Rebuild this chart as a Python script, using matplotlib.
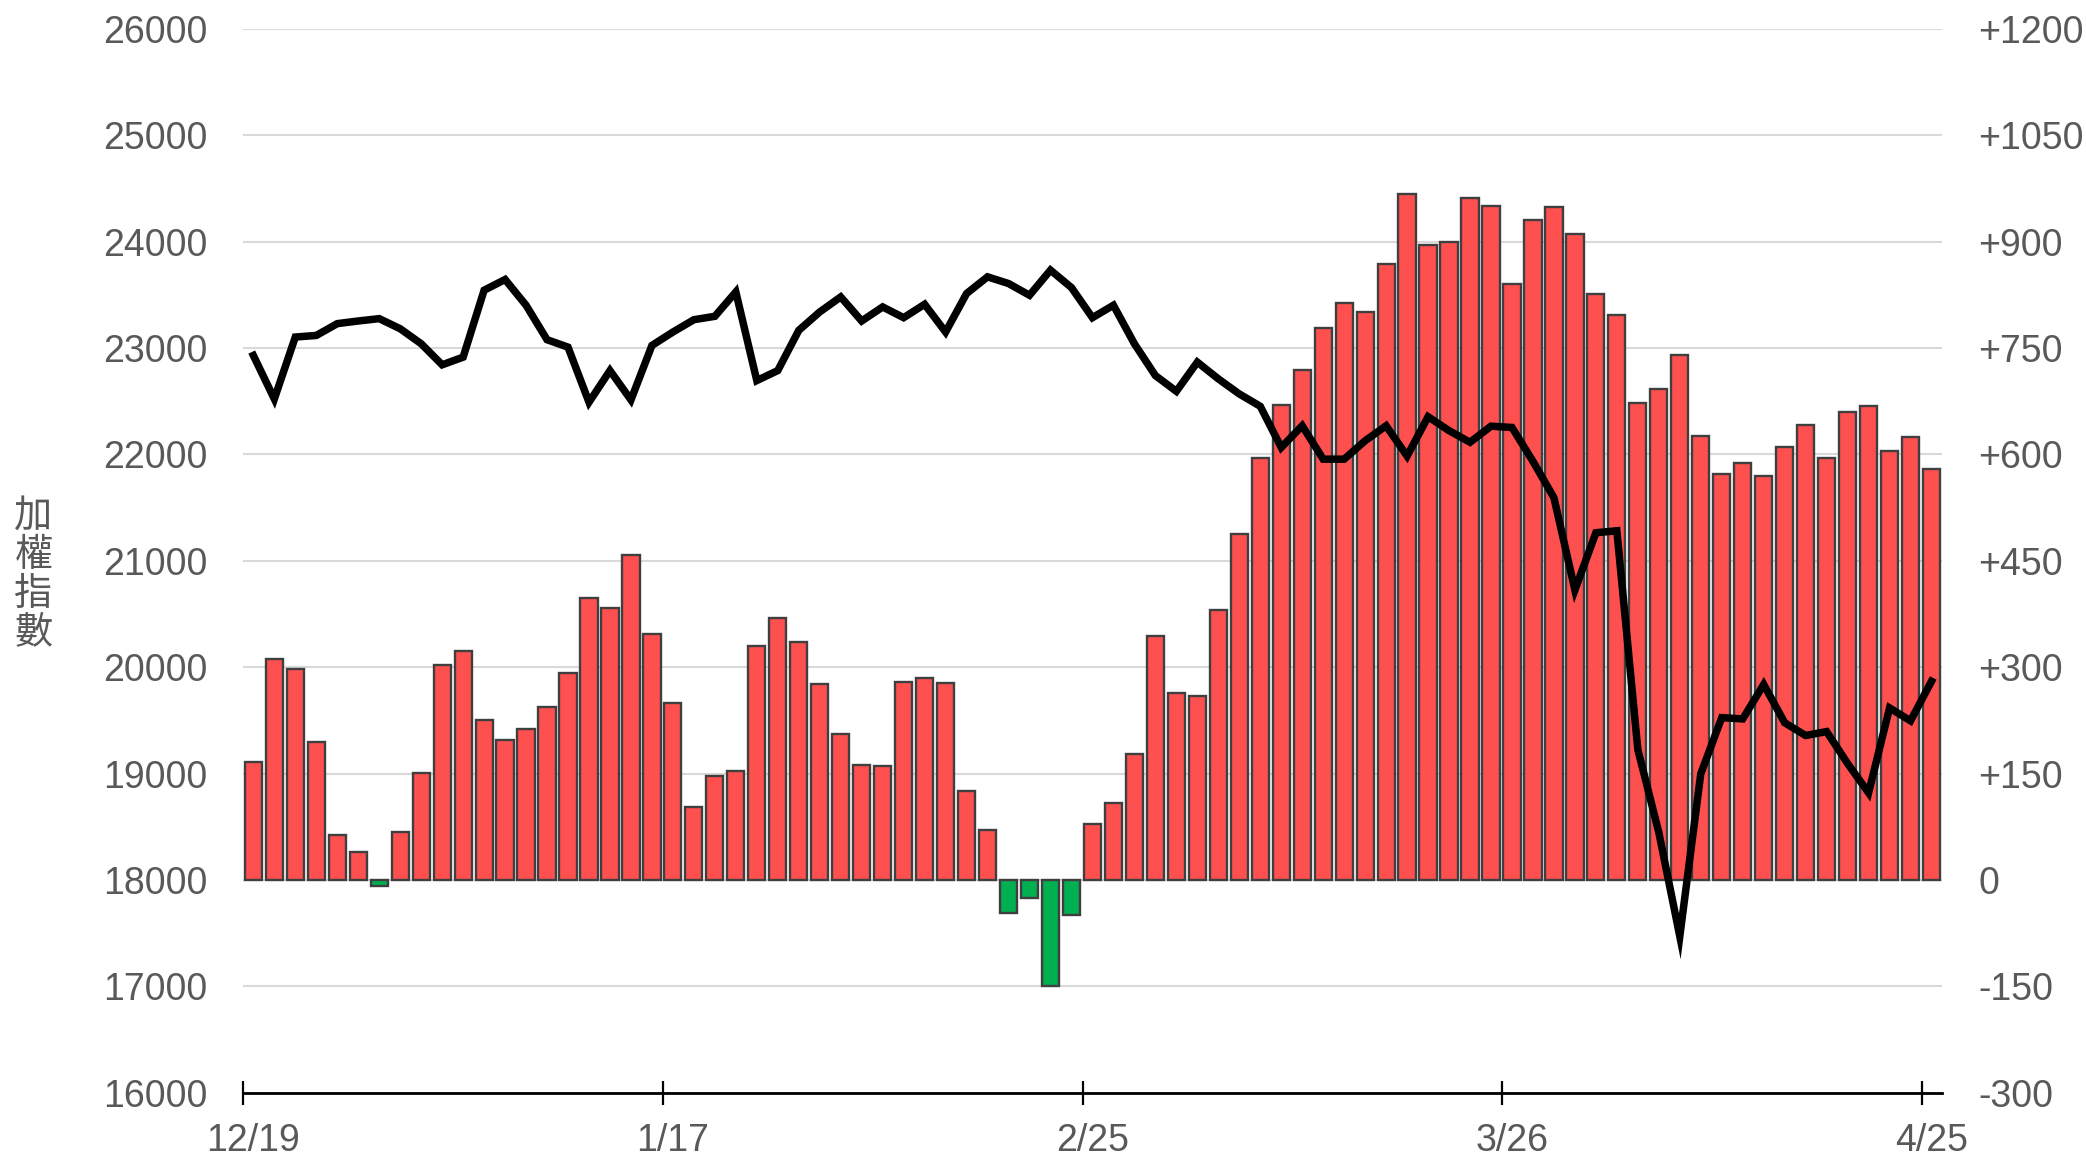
import matplotlib
matplotlib.use("Agg")
import matplotlib.pyplot as plt
import numpy as np

# --- data ---
# daily change of the index (right axis, points)
change = [
    167, 312, 297, 195, 63, 40, -9, 67, 151, 303,
    323, 226, 197, 213, 244, 292, 398, 383, 458, 347,
    250, 103, 147, 154, 330, 370, 336, 277, 206, 162,
    160, 279, 285, 278, 125, 70, -47, -25, -150, -49,
    79, 109, 177, 344, 263, 259, 380, 488, 595, 670,
    719, 778, 814, 801, 869, 968, 896, 900, 961, 950,
    840, 931, 949, 911, 827, 797, 673, 693, 740, 626,
    572, 588, 569, 611, 641, 595, 660, 668, 605, 624,
    579,
]
# 加權指數 close (left axis)
index_close = [
    22931, 22522, 23104, 23119, 23230, 23255, 23277, 23182, 23041, 22843,
    22915, 23544, 23645, 23403, 23079, 23009, 22491, 22789, 22513, 23025,
    23151, 23267, 23299, 23528, 22695, 22789, 23167, 23340, 23481, 23255,
    23387, 23286, 23412, 23151, 23513, 23670, 23607, 23497, 23733, 23569,
    23286, 23403, 23041, 22742, 22594, 22868, 22711, 22569, 22453, 22066,
    22270, 21956, 21956, 22129, 22270, 21985, 22355, 22224, 22115, 22266,
    22254, 21936, 21594, 20726, 21264, 21283, 19226, 18447, 17470, 18998,
    19526, 19514, 19838, 19478, 19358, 19395, 19095, 18819, 19617, 19496,
    19868,
]
date_labels = ["12/19", "1/17", "2/25", "3/26", "4/25"]
label_idx = [0, 20, 40, 60, 80]

left_ticks = list(range(16000, 26001, 1000))
right_ticks = list(range(-300, 1201, 150))

text_color = "#595959"
font = "Liberation Sans"

x = np.arange(len(change))
colors = ["#ff5050" if v >= 0 else "#00b050" for v in change]

fig = plt.figure(figsize=(20.86, 11.58), dpi=100)
ax = fig.add_axes([0.11673, 0.05639, 0.81424, 0.91857])
ax2 = ax.twinx()

# bars on the right axis, behind the line
ax2.bar(x, change, width=0.82, color=colors, edgecolor="#3f3f3f", linewidth=1.7)
ax2.set_ylim(-300, 1200)
ax2.set_yticks(right_ticks)
ax2.set_yticklabels([f"+{v}" if v > 0 else str(v) for v in right_ticks])
ax2.grid(axis="y", color="#d9d9d9", linewidth=1.5)
ax2.set_axisbelow(True)
ax2.tick_params(axis="y", length=0, pad=26, labelsize=27, labelcolor=text_color)
for lab in ax2.get_yticklabels():
    lab.set_fontfamily(font)
for s in ax2.spines.values():
    s.set_visible(False)

# index line on the left axis, on top
ax.set_zorder(ax2.get_zorder() + 1)
ax.patch.set_visible(False)
ax.plot(x, index_close, color="black", linewidth=5.4, solid_joinstyle="miter")
ax.set_ylim(16000, 26000)
ax.set_yticks(left_ticks)
ax.tick_params(axis="y", length=0, pad=26, labelsize=27, labelcolor=text_color)
for lab in ax.get_yticklabels():
    lab.set_fontfamily(font)

ax.set_xlim(-0.47, 80.5)
ax.set_xticks([i - 0.47 for i in label_idx])
ax.set_xticklabels([""] * len(label_idx))
ax.tick_params(axis="x", which="major", direction="inout", length=17, width=1.6, color="black")
ax.set_xticks(label_idx, minor=True)
ax.set_xticklabels(date_labels, minor=True)
ax.tick_params(axis="x", which="minor", length=0, pad=22, labelsize=27, labelcolor=text_color)
for lab in ax.get_xticklabels(minor=True):
    lab.set_fontfamily(font)

for side in ["left", "right", "top"]:
    ax.spines[side].set_visible(False)
ax.spines["bottom"].set_linewidth(2)
ax.spines["bottom"].set_color("black")

fig.text(33.5 / 2086, 1 - 575 / 1158, "加\n權\n指\n數", family=["Noto Sans CJK TC", "DejaVu Sans"],
         fontsize=27.5, color=text_color, ha="center", va="center", linespacing=0.98)

fig.savefig("out.png", dpi=100)
